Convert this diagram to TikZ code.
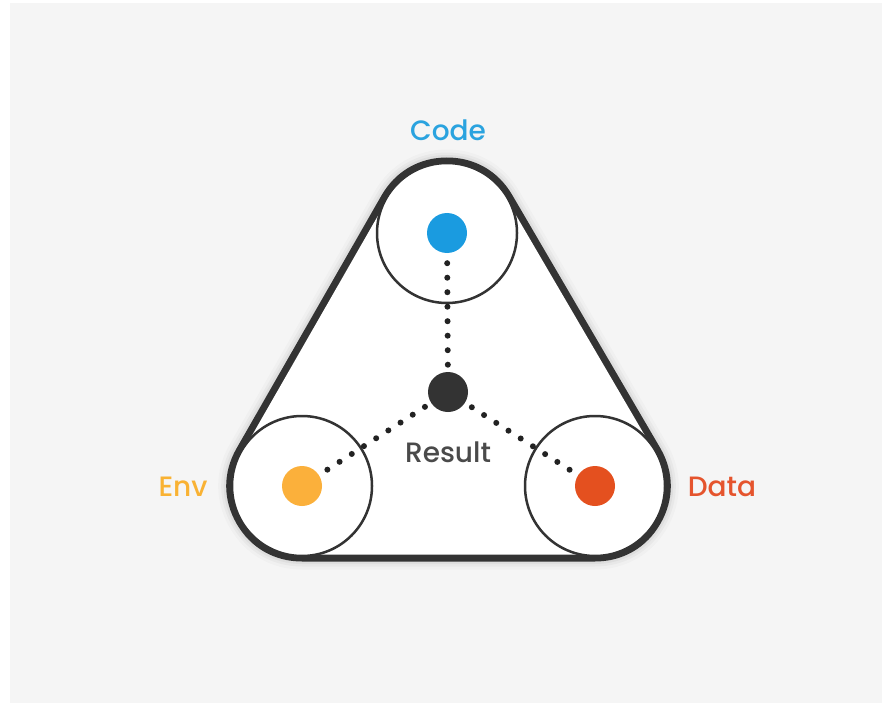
\documentclass[tikz,border=0pt]{standalone}
\usepackage{fontspec}
\setmainfont{Poppins}[UprightFont=* Medium]
\usetikzlibrary{calc}
\definecolor{bg}{HTML}{F5F5F5}
\definecolor{dark}{HTML}{333333}
\definecolor{dotc}{HTML}{222222}
\definecolor{codec}{HTML}{2AA3DF}
\definecolor{envc}{HTML}{F9B233}
\definecolor{datac}{HTML}{E5542D}
\definecolor{codedot}{HTML}{1A9BE0}
\definecolor{envdot}{HTML}{FBB03B}
\definecolor{datadot}{HTML}{E4501F}
\definecolor{restext}{HTML}{4A4A4A}
\begin{document}
\begin{tikzpicture}[x=1pt,y=-1pt,
  ring/.style={circle, draw=dark, line width=2.5pt, minimum size=140pt, inner sep=0pt, fill=white},
  dotnode/.style={circle, minimum size=40pt, inner sep=0pt},
  dotline/.style={draw=dotc, line width=6pt, line cap=round, dash pattern=on 0pt off 14.5pt, shorten <=10pt, shorten >=7pt},
  lbl/.style={font=\fontsize{28}{32}\selectfont, inner sep=0pt}
]
\useasboundingbox (0,0) rectangle (882,711);
\fill[white] (0,0) rectangle (882,711);
\fill[bg] (10,3) rectangle (882,703);
\coordinate (cC) at (447,233);
\coordinate (cE) at (302,486);
\coordinate (cD) at (595,486);
% soft shadow
\foreach \w/\o in {167/0.02,161/0.03,156/0.04}{
  \draw[line width=\w pt, line join=round, black, opacity=\o] (cC)--(cE)--(cD)--cycle;
}
% outer rounded triangle (hull of the three circles)
\draw[line width=151pt, line join=round, dark] (cC)--(cE)--(cD)--cycle;
\draw[line width=137pt, line join=round, white, fill=white] (cC)--(cE)--(cD)--cycle;
% rings
\node[ring] (rC) at (cC) {};
\node[ring] (rE) at (cE) {};
\node[ring] (rD) at (cD) {};
% dots
\node[dotnode, fill=codedot] (dC) at (cC) {};
\node[dotnode, fill=envdot] (dE) at (cE) {};
\node[dotnode, fill=datadot] (dD) at (cD) {};
\node[dotnode, fill=dark] (dR) at (448,392) {};
% dotted connectors
\draw[dotline] (dC) -- (dR);
\draw[dotline] (dE) -- (dR);
\draw[dotline] (dD) -- (dR);
% labels
\node[lbl, text=codec] (tC) at (448,130) {Code};
\node[lbl, text=envc] (tE) at (183,487) {Env};
\node[lbl, text=datac] (tD) at (722,487) {Data};
\node[lbl, text=restext] (tR) at (448,452) {Result};
\end{tikzpicture}
\end{document}
